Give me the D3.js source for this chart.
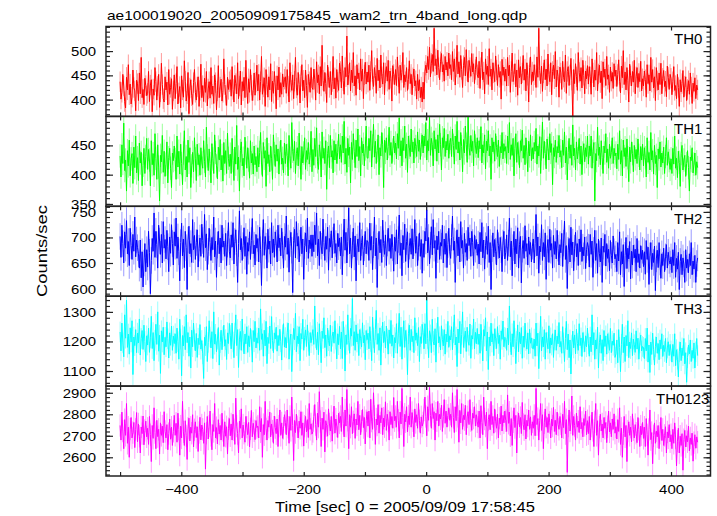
<!DOCTYPE html>
<html><head><meta charset="utf-8">
<script src="https://cdn.jsdelivr.net/npm/d3@7"></script>
<style>body{margin:0;background:#fff} text{font-family:"Liberation Sans",Arial,Helvetica,sans-serif;fill:#000}</style>
</head><body><svg id="c" width="717" height="516"></svg>
<script>
// ---- data (1.5 s bins starting at t = -500 s) ----
const tStart = -500, binSize = 1.5;
const th0 = [437,401,415,452,428,396,383,446,420,472,410,432,391,405,461,425,418,377,440,433,398,455,412,487,404,421,390,444,429,408,
413,458,396,430,441,375,422,409,466,437,399,428,452,384,416,475,431,402,395,447,420,436,389,462,411,425,443,380,418,451,
402,433,468,391,414,427,383,449,420,405,480,438,397,412,456,371,424,441,408,390,435,462,415,399,426,447,386,419,473,404,
429,396,444,415,458,387,422,437,403,466,411,428,392,451,435,379,418,470,404,426,442,397,415,484,431,409,388,446,421,437,
441,407,468,421,395,450,433,412,476,402,428,459,389,437,418,446,404,481,426,392,443,415,462,430,398,419,455,409,436,471,
418,452,399,437,489,411,426,445,386,462,431,405,447,420,474,396,438,413,458,428,381,449,420,467,405,435,411,453,426,442,
447,413,462,428,395,476,436,419,451,402,438,487,424,409,456,431,393,448,472,418,440,404,461,429,384,452,437,415,466,425,
421,463,442,399,478,435,451,412,468,428,512,440,417,456,433,394,471,446,425,458,410,437,489,422,445,403,462,436,419,475,
458,424,490,439,411,466,447,531,430,452,476,418,461,435,497,428,449,409,472,443,455,420,484,438,463,402,451,477,432,457,
436,471,419,458,501,442,427,466,450,413,485,439,461,424,492,447,432,476,410,455,468,438,481,421,459,444,397,470,452,431,
462,429,488,447,413,471,440,456,497,425,451,437,466,419,442,480,433,452,410,445,463,428,439,401,452,418,441,404,426,395,
436,401,458,471,455,489,462,508,447,475,493,458,547,470,484,451,502,466,441,478,495,457,472,438,489,461,477,449,496,464,
472,441,499,458,484,430,467,512,453,478,446,491,462,425,470,487,449,503,459,436,481,466,448,495,457,474,433,462,488,451,
445,479,423,466,498,441,457,412,484,452,469,431,505,448,463,420,476,455,437,490,461,429,472,446,458,401,483,450,467,438,
463,428,487,449,471,415,458,496,437,452,474,426,461,409,482,445,468,432,455,491,440,463,418,476,450,395,466,488,431,457,
439,472,451,425,488,446,547,460,433,469,417,455,482,441,463,428,494,452,437,476,410,458,471,443,499,426,461,448,405,467,
455,421,479,446,437,492,413,458,468,429,451,485,440,365,462,433,474,447,419,497,456,438,466,424,481,450,412,459,443,470,
432,468,447,411,484,455,426,461,440,497,418,453,471,435,459,402,478,446,463,429,489,442,451,415,467,438,456,423,474,448,
461,427,452,482,438,414,469,445,501,431,457,420,466,440,395,473,449,428,458,436,481,412,447,466,425,454,437,479,418,443,
428,459,441,405,472,433,451,418,487,436,462,424,447,398,466,439,420,455,431,475,412,444,460,427,438,406,469,446,421,452,
444,410,437,468,419,429,402,452,425,386,441,416,433,460,405,428,447,398,421,439,411,455,426,392,434,417,445,402,430,420];
const th1 = [432,396,451,419,488,407,425,372,441,415,459,398,427,436,385,447,412,466,403,429,390,454,420,438,381,416,445,402,431,462,
409,443,425,381,458,417,436,399,470,428,392,451,413,355,433,422,467,404,440,397,418,456,386,429,445,411,378,437,424,449,
426,392,466,413,440,401,452,419,383,437,475,408,431,396,459,421,446,378,415,438,405,463,427,390,452,417,434,399,446,420,
411,458,423,396,481,432,407,444,419,386,453,427,402,468,438,415,393,447,425,460,408,433,389,455,419,441,402,471,428,414,
435,402,462,424,390,447,418,484,409,430,372,441,456,415,428,398,464,437,411,446,425,394,458,420,436,401,449,417,431,405,
446,413,438,472,420,397,455,428,441,380,463,419,434,405,449,427,392,468,436,414,451,423,444,401,437,459,418,428,403,454,
419,452,433,398,467,428,411,489,440,424,457,402,436,446,415,471,429,392,448,420,437,463,409,441,426,455,418,433,474,405,
443,416,462,431,480,422,409,451,437,396,473,428,445,419,458,375,436,449,412,467,430,441,403,458,425,452,419,438,469,427,
451,421,466,437,491,418,445,404,462,433,447,386,455,426,470,440,412,459,431,478,424,448,398,463,437,452,415,444,483,429,
428,462,441,475,413,449,486,430,457,419,441,468,400,446,432,472,451,378,459,438,463,425,448,481,433,455,419,442,466,437,
454,427,470,445,497,432,458,415,463,441,483,428,452,404,466,447,431,478,439,456,420,462,448,431,473,440,459,426,451,468,
437,466,449,489,425,458,441,498,433,462,452,415,475,444,460,423,468,437,486,451,408,463,446,479,431,457,442,469,428,455,
462,431,478,450,418,466,443,491,437,456,425,472,448,405,460,437,483,452,421,499,446,433,467,440,457,415,475,449,436,463,
429,458,444,482,420,451,437,468,410,457,441,475,432,449,392,463,439,456,423,470,446,431,459,414,448,437,472,427,453,440,
448,419,466,437,489,426,451,433,462,398,445,470,421,455,437,412,458,441,476,428,450,417,463,439,405,457,432,468,424,446,
427,455,440,479,418,449,432,465,402,444,490,428,457,436,410,461,445,425,470,438,453,383,446,431,459,421,448,437,467,430,
441,412,459,433,473,420,447,391,438,462,428,451,416,485,432,445,408,456,427,440,462,418,449,400,437,453,422,446,431,466,
418,449,432,466,411,440,455,355,436,424,481,433,447,417,458,429,402,449,437,470,421,444,411,452,428,438,463,419,445,432,
437,410,452,426,475,418,441,398,459,431,446,414,461,429,388,447,422,456,436,405,450,427,443,419,461,433,408,448,425,452,
415,446,429,396,463,421,438,408,472,425,441,401,450,419,433,378,444,427,456,413,437,420,447,402,431,463,416,439,424,409,
427,402,445,418,466,411,428,395,440,421,380,436,450,408,425,433,397,419,441,412,372,430,424,446,403,418,437,399,422,412];
const th2 = [702,661,724,688,650,711,679,733,668,692,645,718,684,657,706,673,740,662,695,680,668,640,695,621,672,603,650,688,633,676,
642,712,671,590,655,698,673,748,661,712,686,640,724,693,667,706,650,731,679,696,658,714,682,633,701,669,725,688,646,711,
683,738,659,701,672,615,690,728,664,697,641,712,680,598,695,722,668,688,651,735,676,704,657,690,715,642,679,699,663,726,
694,661,745,680,707,637,673,718,690,655,700,676,740,662,693,622,685,712,668,699,650,724,681,693,663,708,645,687,729,672,
660,705,681,729,648,692,715,670,612,688,752,676,698,655,684,719,663,702,628,690,673,711,657,694,737,668,685,646,706,679,
698,652,720,676,606,689,735,665,702,683,640,716,677,693,648,729,670,697,661,711,689,652,724,680,699,664,718,685,640,702,
681,742,667,699,632,688,710,675,592,694,716,660,731,683,702,652,689,720,668,697,618,684,709,672,738,659,695,678,705,663,
705,672,724,686,748,664,697,645,712,683,668,736,690,655,702,677,720,636,698,681,713,660,694,727,669,688,650,708,682,699,
664,701,627,689,736,675,710,650,692,758,668,699,640,685,718,662,703,615,681,697,672,729,655,690,703,646,680,712,668,694,
691,655,728,675,702,637,686,740,664,699,602,683,712,670,696,651,734,688,667,705,645,689,718,673,698,659,706,680,634,701,
673,715,648,696,744,665,689,625,704,676,726,653,692,711,641,683,698,667,717,658,690,735,669,702,645,681,709,663,696,630,
688,661,712,693,754,670,700,648,685,721,666,735,679,694,620,703,676,712,657,690,683,724,650,697,667,708,641,686,718,672,
659,700,742,675,693,612,687,715,664,701,652,731,679,694,640,708,671,688,655,720,684,699,663,712,690,645,705,677,696,665,
687,648,710,672,729,660,695,638,684,702,667,722,651,690,598,678,709,662,696,673,646,715,684,660,700,676,633,689,712,658,
671,705,655,689,738,662,693,625,680,712,648,697,668,719,640,686,702,611,677,694,659,723,673,688,646,701,667,690,652,683,
697,650,688,745,664,701,630,683,672,725,655,690,662,709,618,678,696,651,716,675,688,640,704,667,692,658,714,679,646,686,
670,708,643,689,732,657,684,600,675,698,652,720,666,691,635,679,710,662,688,645,697,672,715,653,681,664,701,639,676,690,
681,642,706,667,693,622,675,714,655,688,630,697,668,652,699,612,683,671,706,644,688,659,677,635,694,665,650,703,672,658,
667,633,690,654,711,627,672,648,686,604,665,700,639,679,658,692,619,673,646,685,660,677,633,698,651,668,640,684,657,675,
643,672,628,694,657,681,608,664,690,637,669,651,683,596,658,675,641,690,652,620,668,645,679,633,662,686,640,671,655,648,
662,631,676,645,690,622,659,638,671,598,653,667,627,660,648,612,676,640,657,631,668,645,690,627,654,638,665,612,649,660];
const th3 = [1232,1168,1262,1195,1148,1290,1211,1340,1180,1225,1157,1246,1198,1270,1088,1215,1186,1240,1162,1228,1195,1276,1154,1210,1237,1173,1255,1200,1132,1219,
1188,1245,1163,1212,1285,1176,1230,1135,1204,1258,1190,1300,1167,1221,1092,1236,1198,1248,1155,1214,1182,1266,1209,1144,1229,1187,1252,1170,1218,1193,
1226,1160,1245,1199,1140,1275,1208,1084,1220,1185,1250,1172,1290,1196,1230,1150,1215,1110,1238,1182,1262,1205,1168,1227,1146,1211,1189,1257,1174,1203,
1158,1075,1214,1186,1250,1132,1197,1270,1215,1178,1233,1142,1300,1191,1224,1165,1208,1247,1120,1196,1238,1172,1216,1255,1184,1206,1139,1229,1193,1261,
1221,1175,1262,1198,1145,1228,1290,1186,1240,1112,1208,1234,1170,1276,1201,1158,1225,1192,1250,1163,1219,1182,1244,1205,1130,1237,1199,1268,1178,1212,
1194,1245,1170,1310,1207,1226,1150,1238,1185,1268,1125,1214,1193,1252,1176,1284,1203,1162,1229,1208,1248,1167,1220,1186,1241,1199,1137,1222,1260,1181,
1213,1178,1230,1262,1140,1205,1225,1098,1188,1244,1206,1295,1165,1218,1192,1250,1135,1227,1208,1275,1170,1214,1239,1183,1256,1201,1152,1230,1196,1219,
1240,1190,1320,1212,1172,1231,1155,1260,1198,1128,1235,1210,1280,1179,1222,1150,1245,1203,1185,1255,1166,1218,1232,1194,1270,1208,1141,1226,1189,1251,
1175,1232,1142,1268,1215,1100,1222,1190,1290,1204,1160,1244,1218,1345,1186,1233,1170,1256,1198,1226,1152,1240,1209,1181,1263,1195,1221,1138,1237,1206,
1228,1175,1250,1200,1135,1282,1212,1162,1240,1305,1190,1227,1170,1246,1120,1218,1265,1196,1234,1178,1252,1209,1157,1239,1193,1271,1184,1222,1144,1213,
1195,1260,1160,1228,1295,1183,1248,1140,1215,1270,1180,1237,1205,1088,1226,1255,1170,1241,1199,1218,1162,1280,1204,1229,1186,1247,1132,1216,1193,1258,
1230,1175,1260,1192,1340,1210,1145,1236,1222,1162,1275,1200,1188,1243,1130,1228,1282,1195,1216,1171,1253,1207,1185,1240,1157,1225,1198,1268,1180,1219,
1205,1250,1172,1230,1290,1188,1215,1115,1242,1195,1268,1158,1224,1300,1180,1212,1235,1166,1248,1201,1187,1259,1143,1220,1208,1276,1175,1231,1192,1244,
1190,1225,1160,1258,1204,1134,1240,1218,1280,1168,1232,1105,1215,1185,1262,1198,1226,1152,1243,1209,1176,1250,1193,1221,1140,1236,1207,1269,1182,1214,
1210,1170,1245,1188,1320,1199,1155,1226,1182,1270,1210,1125,1200,1256,1165,1232,1192,1247,1143,1218,1180,1262,1203,1174,1229,1158,1241,1194,1212,1177,
1175,1208,1150,1262,1185,1228,1108,1198,1285,1168,1215,1182,1240,1140,1230,1197,1175,1253,1160,1212,1188,1226,1146,1205,1239,1170,1218,1192,1264,1181,
1200,1160,1250,1195,1132,1210,1268,1172,1225,1145,1205,1090,1188,1235,1178,1222,1158,1241,1193,1170,1260,1186,1212,1149,1230,1198,1165,1219,1182,1245,
1192,1150,1215,1165,1290,1188,1230,1140,1205,1175,1248,1110,1196,1222,1160,1206,1135,1237,1183,1219,1157,1226,1195,1170,1244,1162,1201,1187,1228,1146,
1158,1205,1128,1240,1180,1098,1190,1258,1162,1215,1132,1220,1185,1270,1145,1198,1176,1229,1152,1208,1189,1163,1236,1174,1211,1140,1195,1222,1168,1183,
1180,1142,1210,1168,1245,1130,1188,1095,1198,1156,1228,1172,1120,1182,1215,1160,1193,1138,1205,1175,1226,1149,1187,1166,1210,1128,1178,1199,1152,1190,
1168,1130,1190,1150,1226,1118,1172,1140,1080,1165,1198,1135,1178,1152,1210,1124,1162,1062,1145,1188,1158,1205,1132,1170,1143,1195,1110,1165,1210,1152];
const th0123 = [2748,2680,2810,2722,2640,2775,2702,2850,2665,2740,2600,2731,2785,2690,2715,2762,2645,2730,2808,2672,2755,2698,2620,2741,2710,2792,2658,2725,2768,2695,
2735,2660,2790,2705,2580,2748,2688,2830,2715,2640,2772,2696,2730,2615,2760,2702,2745,2668,2812,2720,2690,2752,2635,2710,2778,2684,2740,2655,2721,2795,
2702,2758,2670,2805,2730,2610,2745,2690,2860,2718,2655,2770,2700,2590,2735,2782,2676,2740,2712,2798,2648,2728,2765,2692,2742,2627,2715,2786,2681,2750,
2730,2665,2760,2545,2712,2790,2685,2745,2815,2702,2635,2752,2720,2850,2690,2738,2662,2775,2708,2748,2680,2805,2725,2650,2765,2698,2742,2615,2733,2780,
2700,2755,2680,2800,2728,2660,2875,2745,2710,2620,2768,2735,2825,2690,2750,2712,2670,2790,2740,2705,2762,2648,2732,2818,2695,2758,2723,2682,2771,2738,
2745,2690,2835,2718,2780,2600,2752,2705,2860,2732,2680,2771,2740,2810,2695,2755,2722,2665,2792,2738,2710,2778,2650,2745,2820,2702,2760,2688,2735,2798,
2762,2705,2820,2740,2665,2790,2725,2880,2748,2585,2771,2715,2800,2742,2690,2768,2735,2812,2702,2760,2652,2745,2790,2718,2775,2692,2850,2730,2755,2708,
2720,2790,2845,2752,2680,2805,2740,2905,2766,2650,2782,2730,2810,2625,2770,2748,2698,2825,2755,2722,2790,2675,2760,2838,2712,2778,2745,2692,2805,2760,
2790,2720,2880,2758,2695,2820,2745,2915,2772,2640,2798,2740,2835,2710,2765,2802,2688,2778,2750,2860,2728,2795,2705,2768,2822,2738,2785,2662,2770,2812,
2745,2815,2690,2870,2768,2730,2900,2790,2660,2778,2750,2845,2712,2795,2760,2830,2705,2782,2742,2858,2725,2800,2768,2680,2812,2752,2790,2735,2878,2770,
2790,2740,2860,2772,2690,2810,2755,2920,2785,2650,2800,2765,2835,2718,2792,2752,2880,2740,2808,2770,2695,2825,2762,2798,2735,2850,2770,2712,2788,2745,
2760,2820,2880,2790,2700,2835,2772,2925,2795,2735,2850,2780,2812,2680,2805,2770,2860,2745,2800,2778,2842,2720,2790,2868,2758,2815,2740,2795,2830,2772,
2800,2740,2900,2785,2715,2835,2770,2915,2790,2670,2818,2760,2850,2730,2795,2775,2842,2705,2788,2812,2752,2868,2770,2725,2805,2782,2835,2745,2798,2765,
2740,2815,2690,2840,2762,2705,2880,2778,2745,2810,2640,2775,2798,2728,2860,2752,2790,2712,2825,2768,2735,2800,2690,2782,2755,2838,2722,2795,2760,2815,
2770,2720,2890,2758,2810,2700,2780,2655,2765,2830,2738,2795,2620,2760,2805,2742,2785,2710,2855,2752,2728,2798,2685,2772,2745,2820,2730,2788,2702,2765,
2735,2795,2700,2920,2752,2780,2680,2770,2850,2725,2798,2640,2760,2825,2740,2785,2715,2802,2762,2690,2778,2745,2832,2720,2772,2705,2810,2752,2730,2790,
2755,2690,2800,2738,2860,2710,2775,2530,2745,2820,2722,2760,2885,2702,2790,2748,2680,2805,2740,2768,2715,2835,2732,2762,2695,2780,2748,2815,2705,2770,
2710,2790,2680,2745,2810,2725,2650,2765,2850,2702,2770,2610,2740,2800,2722,2755,2690,2785,2735,2762,2668,2742,2815,2718,2760,2695,2778,2730,2802,2712,
2742,2685,2775,2720,2830,2660,2735,2600,2710,2790,2695,2748,2580,2722,2765,2702,2740,2672,2802,2728,2690,2752,2712,2668,2785,2730,2650,2745,2705,2762,
2688,2740,2650,2780,2705,2610,2730,2820,2682,2715,2570,2700,2760,2665,2722,2695,2748,2640,2712,2785,2678,2730,2655,2702,2742,2620,2718,2690,2752,2672,
2705,2640,2730,2665,2760,2690,2560,2675,2735,2620,2698,2655,2710,2540,2682,2725,2648,2700,2672,2745,2630,2690,2660,2712,2582,2668,2705,2642,2695,2670];

const seriesValues = [th0, th1, th2, th3, th0123];
const seriesNames = ["TH0", "TH1", "TH2", "TH3", "TH0123"];
const seriesColors = ["#ff0000", "#00ff00", "#0000ff", "#00ffff", "#ff00ff"];
const seriesErrors = [21, 20, 26, 35, 52];
const yDomains = [[365.4, 550.7], [346, 499.5], [585, 761], [1049, 1353], [2513, 2931]];
const yLabelTicks = [[400, 450, 500], [350, 400, 450], [600, 650, 700, 750], [1100, 1200, 1300], [2600, 2700, 2800, 2900]];
const yMinorSteps = [10, 10, 10, 20, 20];
const xDomain = [-523, 464.5];
const xMajorTicks = [-500, -400, -300, -200, -100, 0, 100, 200, 300, 400];
const xLabelTicks = [-400, -200, 0, 200, 400];
const titleText = "ae100019020_20050909175845_wam2_trn_4band_long.qdp";
const xTitle = "Time [sec] 0 = 2005/09/09 17:58:45";
const yTitle = "Counts/sec";

// ---- layout ----
const L = 106, R = 710.5, T = 26.5, B = 476;
const PH = (B - T) / 5;
const svg = d3.select("#c");
const x = d3.scaleLinear().domain(xDomain).range([L, R]);
const fmt = d3.format("");
const CW = 8.3; // char width of stretched tick font

function stretch(sel, cw) {
  sel.attr("textLength", function () { return this.textContent.length * cw; })
     .attr("lengthAdjust", "spacingAndGlyphs");
}

seriesValues.forEach((vals, i) => {
  const times = vals.map((d, j) => tStart + j * binSize);
  const top = T + i * PH;
  const y = d3.scaleLinear().domain(yDomains[i]).range([top + PH, top]);
  const g = svg.append("g");
  const cid = "clip" + i;
  svg.append("clipPath").attr("id", cid).append("rect")
    .attr("x", L).attr("y", top).attr("width", R - L).attr("height", PH);
  const dg = g.append("g").attr("clip-path", `url(#${cid})`);
  const col = seriesColors[i], e = seriesErrors[i];
  dg.selectAll("line.err").data(vals).join("line").attr("class", "err")
    .attr("x1", (d, j) => x(times[j])).attr("x2", (d, j) => x(times[j]))
    .attr("y1", d => y(d - e)).attr("y2", d => y(d + e))
    .attr("stroke", col).attr("stroke-opacity", 0.4).attr("stroke-width", 1);
  dg.append("path").datum(vals)
    .attr("d", d3.line().x((d, j) => x(times[j])).y(d => y(d)))
    .attr("fill", "none").attr("stroke", col).attr("stroke-width", 1);

  // y axes
  const minor = d3.range(Math.ceil(yDomains[i][0] / yMinorSteps[i]) * yMinorSteps[i], yDomains[i][1], yMinorSteps[i]);
  const ax = (gen, tv, size, labels) => gen(y).tickValues(tv).tickSize(size).tickPadding(10).tickFormat(labels ? fmt : "");
  const yl = g.append("g").attr("transform", `translate(${L},0)`).call(ax(d3.axisLeft, minor, -4, false));
  const ylM = g.append("g").attr("transform", `translate(${L},0)`).call(ax(d3.axisLeft, yLabelTicks[i], -7, true));
  const yr = g.append("g").attr("transform", `translate(${R},0)`).call(ax(d3.axisRight, minor, -4, false));
  const yrM = g.append("g").attr("transform", `translate(${R},0)`).call(ax(d3.axisRight, yLabelTicks[i], -7, false));
  // x axes top & bottom
  const xt = g.append("g").attr("transform", `translate(0,${top})`).call(d3.axisTop(x).tickValues(xMajorTicks).tickSize(-4).tickFormat(""));
  const xb = g.append("g").attr("transform", `translate(0,${top + PH})`)
    .call(d3.axisBottom(x).tickValues(xMajorTicks).tickSize(-4).tickPadding(9.5)
      .tickFormat(d => (i === 4 && xLabelTicks.includes(d)) ? fmt(d) : ""));
  [yl, ylM, yr, yrM, xt, xb].forEach(s => {
    s.select(".domain").remove();
    s.selectAll(".tick line").attr("stroke", "#222").attr("stroke-width", 1.2);
    s.selectAll("text").attr("font-size", 12.5).attr("fill", "#000")
      .attr("font-family", '"Liberation Sans",Arial,sans-serif');
  });
  ylM.selectAll("text").attr("dy", "0.36em").call(stretch, CW);
  xb.selectAll("text").attr("dy", "0.71em").call(stretch, CW);

  // frame
  g.append("rect").attr("x", L).attr("y", top).attr("width", R - L).attr("height", PH)
    .attr("fill", "none").attr("stroke", "#222").attr("stroke-width", 1.5);

  // panel label
  g.append("text").attr("x", i === 4 ? 656 : 674).attr("y", top + 17.5)
    .attr("font-size", 15).text(seriesNames[i]);
});

svg.append("text").attr("x", 107).attr("y", 20).attr("font-size", 13)
  .attr("textLength", 420).attr("lengthAdjust", "spacingAndGlyphs").text(titleText);
svg.append("text").attr("x", 405).attr("y", 512).attr("font-size", 14)
  .attr("text-anchor", "middle").attr("textLength", 260).attr("lengthAdjust", "spacingAndGlyphs").text(xTitle);
svg.append("text").attr("transform", "translate(47,251) rotate(-90)").attr("font-size", 14)
  .attr("text-anchor", "middle").attr("textLength", 92).attr("lengthAdjust", "spacingAndGlyphs").text(yTitle);
</script>
</body></html>
